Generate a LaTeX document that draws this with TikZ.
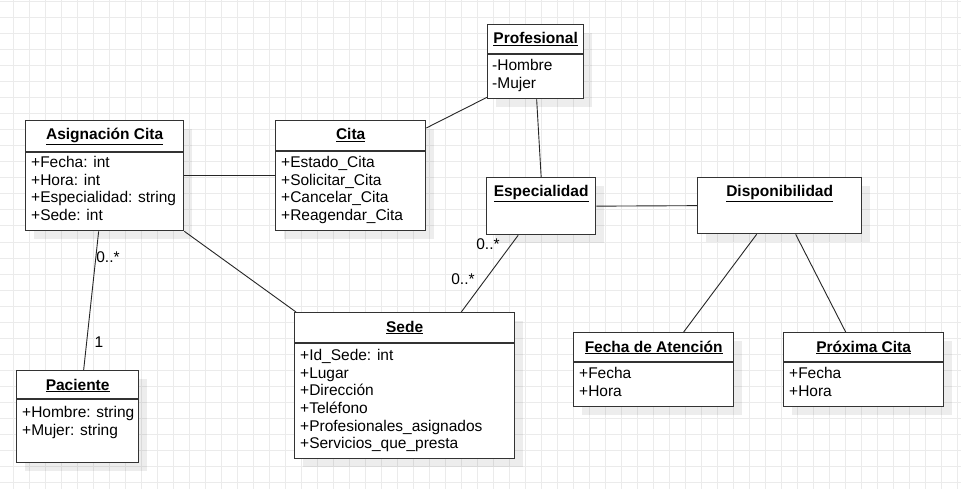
\documentclass[tikz,border=0pt]{standalone}
\usepackage{fontspec}
\setmainfont{Liberation Sans}
\usetikzlibrary{shadows}

\definecolor{gridgray}{HTML}{EBEBEB}
\definecolor{boxline}{HTML}{333333}

\tikzset{
  classbox/.style={draw=boxline, line width=1.3pt, fill=white, inner sep=0pt, anchor=north west,
    drop shadow={shadow xshift=8pt, shadow yshift=-8pt, fill=black, opacity=0.07}},
  classtitle/.style={font=\fontsize{15.5}{18}\selectfont\bfseries, anchor=base, inner sep=0pt},
  classattr/.style={font=\fontsize{15.5}{17.7}\selectfont, align=left, anchor=north west, inner sep=0pt},
  compart/.style={draw=boxline, line width=1.1pt},
  assoc/.style={draw=black!85, line width=0.9pt},
  mult/.style={font=\fontsize{15.5}{18}\selectfont, inner sep=0pt}
}

\begin{document}
\begin{tikzpicture}[x=1pt, y=-1pt]
\useasboundingbox (0,0) rectangle (961,489);
\fill[white] (0,0) rectangle (961,489);

% grid
\foreach \x in {13,29,...,957} \draw[gridgray, line width=1pt] (\x,0) -- (\x,489);
\foreach \y in {2,18,...,482} \draw[gridgray, line width=1pt] (0,\y) -- (961,\y);

% classes
\node[classbox, minimum width=158pt, minimum height=110pt] (asig) at (25,120) {};
\node[classbox, minimum width=150pt, minimum height=110pt] (cita) at (275,120) {};
\node[classbox, minimum width=96pt, minimum height=74pt] (prof) at (487,24) {};
\node[classbox, minimum width=109pt, minimum height=57pt] (espec) at (486,177) {};
\node[classbox, minimum width=164pt, minimum height=56pt] (disp) at (697,177) {};
\node[classbox, minimum width=122pt, minimum height=92pt] (pac) at (16,370) {};
\node[classbox, minimum width=220pt, minimum height=146pt] (sede) at (294,312) {};
\node[classbox, minimum width=160pt, minimum height=74pt] (fecha) at (573,332) {};
\node[classbox, minimum width=160pt, minimum height=74pt] (prox) at (783,332) {};

% titles
\node[classtitle] (asigTitle) at ([yshift=-20pt]asig.north) {\underline{Asignación Cita}};
\node[classtitle] (citaTitle) at ([yshift=-20pt]cita.north) {\underline{Cita}};
\node[classtitle] (profTitle) at ([yshift=-20pt]prof.north) {\underline{Profesional}};
\node[classtitle] (especTitle) at ([yshift=-20pt]espec.north) {\underline{Especialidad}};
\node[classtitle] (dispTitle) at ([yshift=-20pt]disp.north) {\underline{Disponibilidad}};
\node[classtitle] (pacTitle) at ([yshift=-20pt]pac.north) {\underline{Paciente}};
\node[classtitle] (sedeTitle) at ([yshift=-20pt]sede.north) {\underline{Sede}};
\node[classtitle] (fechaTitle) at ([yshift=-20pt]fecha.north) {\underline{Fecha de Atención}};
\node[classtitle] (proxTitle) at ([yshift=-20pt]prox.north) {\underline{Próxima Cita}};

% compartments
\draw[compart] ([yshift=-32pt]asig.north west) -- ([yshift=-32pt]asig.north east);
\draw[compart] ([yshift=-31pt]cita.north west) -- ([yshift=-31pt]cita.north east);
\draw[compart] ([yshift=-30pt]prof.north west) -- ([yshift=-30pt]prof.north east);
\draw[compart] ([yshift=-29pt]pac.north west) -- ([yshift=-29pt]pac.north east);
\draw[compart] ([yshift=-31pt]sede.north west) -- ([yshift=-31pt]sede.north east);
\draw[compart] ([yshift=-30pt]fecha.north west) -- ([yshift=-30pt]fecha.north east);
\draw[compart] ([yshift=-30pt]prox.north west) -- ([yshift=-30pt]prox.north east);

% attributes
\node[classattr] (asigAttr) at ([xshift=6pt, yshift=-36pt]asig.north west)
  {+Fecha: int\\+Hora: int\\+Especialidad: string\\+Sede: int};
\node[classattr] (citaAttr) at ([xshift=6pt, yshift=-36pt]cita.north west)
  {+Estado\_Cita\\+Solicitar\_Cita\\+Cancelar\_Cita\\+Reagendar\_Cita};
\node[classattr] (profAttr) at ([xshift=5pt, yshift=-35pt]prof.north west)
  {-Hombre\\-Mujer};
\node[classattr] (pacAttr) at ([xshift=6pt, yshift=-36pt]pac.north west)
  {+Hombre: string\\+Mujer: string};
\node[classattr] (sedeAttr) at ([xshift=6pt, yshift=-37pt]sede.north west)
  {+Id\_Sede: int\\+Lugar\\+Dirección\\+Teléfono\\+Profesionales\_asignados\\+Servicios\_que\_presta};
\node[classattr] (fechaAttr) at ([xshift=6pt, yshift=-35pt]fecha.north west)
  {+Fecha\\+Hora};
\node[classattr] (proxAttr) at ([xshift=6pt, yshift=-35pt]prox.north west)
  {+Fecha\\+Hora};

% associations
\draw[assoc] (asig.east) -- (cita.west);
\draw[assoc] ([yshift=-8pt]cita.north east) -- ([yshift=2pt]prof.south west);
\draw[assoc] ([xshift=1pt]prof.south) -- (espec.north);
\draw[assoc] (espec.east) -- (disp.west);
\draw[assoc] ([xshift=-6pt]asig.south) -- ([xshift=6pt]pac.north);
\draw[assoc] (asig.south east) -- ([xshift=2pt]sede.north west);
\draw[assoc] ([xshift=-23pt]espec.south) -- ([xshift=-54pt]sede.north east);
\draw[assoc] ([xshift=-23pt]disp.south) -- ([xshift=30pt]fecha.north);
\draw[assoc] ([xshift=16pt]disp.south) -- ([xshift=-18pt]prox.north);

% multiplicities
\node[mult] (asigMult) at (108,257) {0..*};
\node[mult] (pacMult) at (99,342) {1};
\node[mult] (especMult) at (488,244) {0..*};
\node[mult] (sedeMult) at (463,279) {0..*};
\end{tikzpicture}
\end{document}
